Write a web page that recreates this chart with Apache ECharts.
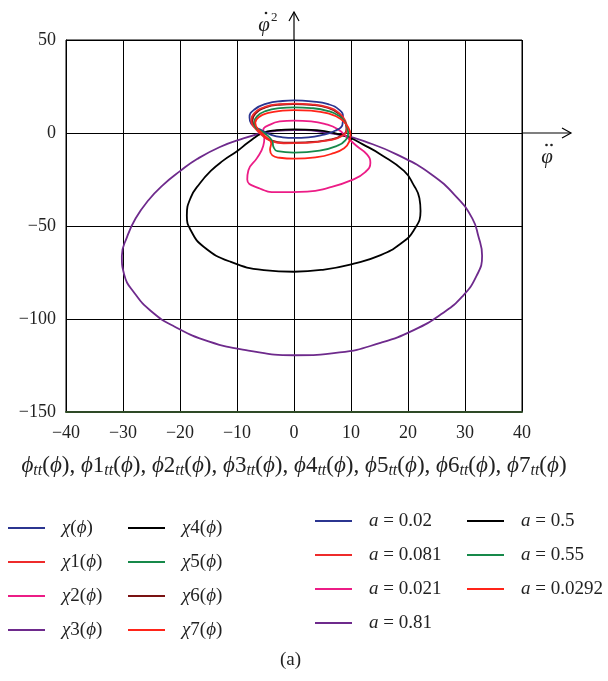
<!DOCTYPE html>
<html><head><meta charset="utf-8">
<script src="https://cdn.jsdelivr.net/npm/echarts@6/dist/echarts.min.js"></script>
<style>html,body{margin:0;padding:0;background:#fff}#c{width:608px;height:681px}</style>
</head><body><div id="c"></div>
<script>
const xTicks = [-40, -30, -20, -10, 0, 10, 20, 30, 40];
const yTicks = [-150, -100, -50, 0, 50];
const seriesNames = ['χ', 'χ1', 'χ2', 'χ3', 'χ4', 'χ5', 'χ6', 'χ7'];
const aLabels = ['0.02', '0.081', '0.021', '0.81', '0.5', '0.55', '', '0.0292'];
const colors = ['#2b3590', '#ee2b2b', '#ec1c86', '#6e2a8c', '#000000', '#16894a', '#7a1212', '#ff2419'];

// χ(ϕ), a = 0.02
const chi0 = [[-6,2],[-7.5,5],[-7.8,8.4],[-7,12.5],[-4.8,15.8],[-2,17.2],[0,17.5],[3,17],[6,15.5],[8,12.3],[8.6,8.5],[8.5,4.5],[7.2,1.2],[5,-1],[2.5,-2.3],[0,-2.6],[-2,-2.3],[-4,-1],[-6,2]];
// χ1(ϕ), a = 0.081
const chi1 = [[-6.8,2.5],[-7.5,6.6],[-7,10.5],[-5.1,14],[-2.5,15.5],[0,15.8],[3,15.4],[6,13.8],[8,10.5],[9,6.5],[9.3,2.5],[8.5,-1.5],[6,-4],[2,-5.3],[-1.8,-5.5],[-4,-4.3],[-5.5,-1.5],[-6.8,2.5]];
// χ2(ϕ), a = 0.021
const chi2 = [[-5.2,-2.5],[-5.4,1.5],[-4.2,4.5],[-2.5,6.2],[0,6.7],[3,6.3],[5.5,4.8],[7.7,2],[9.2,-2],[11,-7],[12.8,-11.5],[13.4,-16],[12.5,-21],[10,-25.5],[6,-29.5],[2.3,-31.5],[-2.9,-31.8],[-6.3,-29.5],[-8.2,-25],[-8,-20],[-6.5,-13.5],[-5.4,-7],[-5.2,-2.5]];
// χ3(ϕ), a = 0.81
const chi3 = [[0,1.5],[-3,1.2],[-5.5,0],[-9,-3],[-13,-7.5],[-17,-14],[-20,-20.5],[-23,-28],[-25.5,-36],[-27.8,-46],[-29.3,-56],[-30.2,-66],[-29.8,-76],[-28,-86],[-25,-96],[-21,-104],[-15,-112],[-8,-117],[0,-119.5],[8,-118],[15,-113],[21,-106],[26,-97],[29.5,-88],[32,-77],[33,-66],[32.3,-55],[31.3,-46],[28.7,-35],[24,-22],[18,-11.5],[12.3,-4.4],[9,-1.5],[5,0.5],[2,1.5],[0,1.5]];
// χ4(ϕ), a = 0.5
const chi4 = [[0,2],[-3,1.5],[-5.5,0],[-8,-5],[-10,-9.8],[-12.5,-15],[-14.6,-20.4],[-16.5,-27],[-18.1,-34.6],[-18.8,-44.4],[-18.1,-52.4],[-15.8,-61.3],[-11.1,-69.3],[-5.3,-73.7],[0,-74.6],[5.3,-73.4],[10.5,-70.2],[15.2,-65.7],[18.7,-59.5],[21,-52.4],[22.2,-42],[22,-35],[21,-28],[19.3,-20.4],[15.2,-11.5],[12,-6],[9.9,-2.7],[7,0],[4,1.5],[0,2]];
// χ5(ϕ), a = 0.55
const chi5 = [[-6.6,2.5],[-7,5.5],[-6.5,9],[-5,11.8],[-2.5,13.4],[0,13.8],[3,13.4],[6,11.8],[8,9],[9,5.5],[9.5,0.4],[9,-4],[7.5,-7],[4.5,-9.5],[0,-10.5],[-2.9,-9.8],[-3.6,-7.5],[-3.8,-4.5],[-4.8,-1],[-6.6,2.5]];
// χ6(ϕ)
const chi6 = [[-6.6,2.5],[-7.3,6.6],[-6.8,10.3],[-5,13.7],[-2.5,15.2],[0,15.5],[3,15.1],[6,13.5],[7.9,10.3],[8.9,6.4],[9.2,2.4],[8.4,-1.4],[5.9,-3.8],[2,-5],[-1.8,-5.2],[-4,-4],[-5.4,-1.4],[-6.6,2.5]];
// χ7(ϕ), a = 0.0292
const chi7 = [[-6.3,2],[-6.8,5.5],[-6.2,8.5],[-4.5,10.8],[-2,12],[0,12.3],[3,12],[6,10.5],[8.2,7.5],[9.4,3.6],[9.9,-1],[9.7,-4.5],[8.8,-8.2],[6.5,-11.3],[4,-13],[0,-13.8],[-2.5,-13.3],[-3.8,-12],[-4.2,-9],[-4,-5.5],[-5,-2],[-6.3,2]];

const curves = [chi0, chi1, chi2, chi3, chi4, chi5, chi6, chi7];
const drawOrder = [3, 4, 2, 0, 6, 1, 5, 7];

const FONT = 'Liberation Serif';
const chart = echarts.init(document.getElementById('c'));

const series = drawOrder.map((k, j) => ({
  type: 'line', name: seriesNames[k], data: curves[k],
  smooth: 0.5, showSymbol: false, symbol: 'none', clip: false,
  lineStyle: { color: colors[k], width: 1.8 },
  itemStyle: { color: colors[k] }, z: 3 + j, animation: false
}));

const richI = { fontStyle: 'italic', fontFamily: FONT, fontSize: 19, color: '#222', lineHeight: 20 };
const legendBase = {
  orient: 'vertical', icon: 'rect', itemWidth: 37, itemHeight: 2, itemGap: 14,
  selectedMode: false, padding: 0,
  textStyle: { fontFamily: FONT, fontSize: 19, color: '#222', lineHeight: 20, padding: [0, 0, 0, 12], rich: { i: richI, n: { fontFamily: FONT, fontSize: 19, color: '#222', lineHeight: 20 } } }
};
const fmtChi = name => '{i|χ}{n|' + name.slice(1) + '(}{i|ϕ}{n|)}';
const fmtA = name => '{i|a}{n| = ' + aLabels[seriesNames.indexOf(name)] + '}';

const titleParts = ['', '1', '2', '3', '4', '5', '6', '7'];
const xName = titleParts.map(p => '{i|ϕ}' + (p ? '{n|' + p + '}' : '') + '{s|tt}{n|(}{i|ϕ}{n|)}').join('{n|, }');

chart.setOption({
  animation: false,
  backgroundColor: '#fff',
  grid: { left: 66, right: 86, top: 40, bottom: 269, show: true, borderColor: '#000', borderWidth: 1 },
  xAxis: {
    type: 'value', min: -40, max: 40, interval: 10,
    axisLine: { show: true, onZero: false, lineStyle: { color: '#2e4a26', width: 2 } },
    axisTick: { show: false },
    splitLine: { show: true, lineStyle: { color: '#000', width: 1 } },
    axisLabel: { fontFamily: FONT, fontSize: 18, color: '#222', margin: 12, formatter: v => String(v).replace('-', '\u2212') },
    name: xName, nameLocation: 'middle', nameGap: 41,
    nameTextStyle: { fontFamily: FONT, fontSize: 23, color: '#222', rich: {
      i: { fontStyle: 'italic', fontFamily: FONT, fontSize: 23, color: '#222', lineHeight: 26 },
      n: { fontFamily: FONT, fontSize: 23, color: '#222', lineHeight: 26 },
      s: { fontStyle: 'italic', fontFamily: FONT, fontSize: 16, color: '#222', lineHeight: 26, padding: [10, 0, 0, 0] } } }
  },
  yAxis: {
    type: 'value', min: -150, max: 50, interval: 50,
    axisLine: { show: true, onZero: false, lineStyle: { color: '#000', width: 1 } },
    axisTick: { show: false },
    splitLine: { show: true, lineStyle: { color: '#000', width: 1 } },
    axisLabel: { fontFamily: FONT, fontSize: 18, color: '#222', margin: 10, formatter: v => String(v).replace('-', '\u2212') }
  },
  legend: [
    Object.assign({}, legendBase, { left: 8, top: 518, data: seriesNames.slice(0, 4), formatter: fmtChi }),
    Object.assign({}, legendBase, { left: 128, top: 518, data: seriesNames.slice(4, 8), formatter: fmtChi }),
    Object.assign({}, legendBase, { left: 315, top: 511, data: seriesNames.slice(0, 4), formatter: fmtA }),
    Object.assign({}, legendBase, { left: 467, top: 511, data: [seriesNames[4], seriesNames[5], seriesNames[7]], formatter: fmtA })
  ],
  title: { text: '(a)', left: 280, top: 651, padding: 0, textStyle: { fontFamily: FONT, fontSize: 19, fontWeight: 'normal', color: '#222' } },
  series: series
});

const pO = chart.convertToPixel({ gridIndex: 0 }, [0, 0]);
const pTop = chart.convertToPixel({ gridIndex: 0 }, [0, 50]);
const pRight = chart.convertToPixel({ gridIndex: 0 }, [40, 0]);
const vTop = pTop[1] - 28, hEnd = pRight[0] + 49;
const dot = (x, y) => ({ type: 'circle', shape: { cx: x, cy: y, r: 1.3 }, style: { fill: '#222' }, z: 50 });
chart.setOption({
  graphic: [
    { type: 'line', shape: { x1: pO[0], y1: pTop[1], x2: pO[0], y2: vTop }, style: { stroke: '#000', lineWidth: 1.2 }, z: 50 },
    { type: 'polyline', shape: { points: [[pO[0] - 5, vTop + 9], [pO[0], vTop], [pO[0] + 5, vTop + 9]] }, style: { stroke: '#000', fill: null, lineWidth: 1.2 }, z: 50 },
    { type: 'line', shape: { x1: pRight[0], y1: pO[1], x2: hEnd, y2: pO[1] }, style: { stroke: '#000', lineWidth: 1.2 }, z: 50 },
    { type: 'polyline', shape: { points: [[hEnd - 9, pO[1] - 5], [hEnd, pO[1]], [hEnd - 9, pO[1] + 5]] }, style: { stroke: '#000', fill: null, lineWidth: 1.2 }, z: 50 },
    { type: 'text', x: pO[0] - 30, y: vTop + 13, z: 50, style: { text: 'φ', align: 'center', verticalAlign: 'middle', fontStyle: 'italic', fontFamily: FONT, fontSize: 21, fill: '#222' } },
    dot(pO[0] - 28, vTop + 1),
    { type: 'text', x: pO[0] - 23, y: vTop + 6, z: 50, style: { text: '2', align: 'left', verticalAlign: 'middle', fontFamily: FONT, fontSize: 13, fill: '#222' } },
    { type: 'text', x: pRight[0] + 25, y: pO[1] + 24, z: 50, style: { text: 'φ', align: 'center', verticalAlign: 'middle', fontStyle: 'italic', fontFamily: FONT, fontSize: 21, fill: '#222' } },
    dot(pRight[0] + 24.5, pO[1] + 12),
    dot(pRight[0] + 29.5, pO[1] + 12)
  ]
});
</script></body></html>
